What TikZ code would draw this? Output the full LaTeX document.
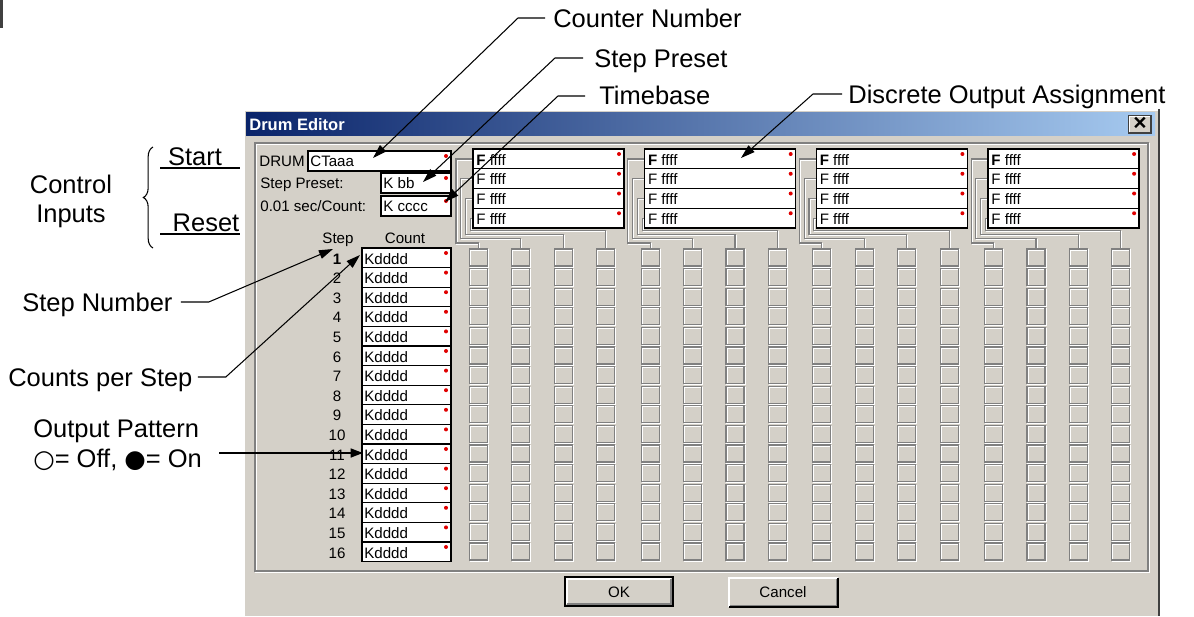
\documentclass[tikz,border=0pt]{standalone}
\usepackage{fontspec}
\setmainfont{Liberation Sans}
\newfontfamily\shapefont{DejaVu Sans}
\usetikzlibrary{arrows.meta,positioning,decorations.pathreplacing}
\definecolor{winbg}{HTML}{D4D0C8}
\definecolor{winshade}{HTML}{808080}
\definecolor{windark}{HTML}{404040}
\definecolor{winnavy}{HTML}{0A246A}
\definecolor{winsky}{HTML}{A6CAF0}
\definecolor{tickred}{HTML}{E00000}

\begin{document}
\begin{tikzpicture}[x=0.02cm,y=-0.02cm,
	note/.style={font=\fontsize{14.5}{17}\selectfont,inner sep=0pt,anchor=base west},
	dlg/.style={font=\fontsize{8.6}{10}\selectfont,inner sep=0pt,anchor=base west},
	point/.style={line width=0.6pt,-{Triangle[length=8pt,width=5pt]}},
	field/.style={draw=black,fill=white,line width=0.7pt},
	tick/.style={fill=tickred},
	etch/.style={draw=winshade,line width=0.6pt},
	etchhi/.style={draw=white,line width=0.6pt}]
	\useasboundingbox (0,0) rectangle (1194,616);
	\draw[windark,line width=1.7pt] (1.5,0) -- (1.5,28);
	% window
	\fill[winbg] (243,109) rectangle (1160,616);
	\draw[white,line width=0.6pt] (244,616) -- (244,110) -- (1158,110);
	\draw[windark,line width=1.1pt] (1159,109) -- (1159,616);
	\shade[left color=winnavy,right color=winsky] (246,112) rectangle (1155,135);
	\node[dlg,font=\fontsize{9.4}{10}\selectfont\bfseries,text=white] (title) at (249,130) {Drum Editor};
	\draw[fill=winbg,draw=windark,line width=0.6pt] (1129,116) rectangle (1151,133);
	\draw[white,line width=0.6pt] (1129.7,132) -- (1129.7,116.7) -- (1150,116.7);
	\node[inner sep=0pt,font=\fontsize{13}{13}\selectfont\bfseries] (close) at (1140,124) {×};
	\draw[etchhi] (256,144) rectangle (1149,572);
	\draw[etch] (255,143) rectangle (1148,571);
	% control fields
	\node[dlg] (drum) at (259,166) {DRUM};
	\node[dlg] (preset) at (260,188) {Step Preset:};
	\node[dlg] (base) at (260,211) {0.01 sec/Count:};
	\draw[field] (308,151) rectangle (451,171);
	\draw[field] (381,173) rectangle (451,193);
	\draw[field] (381,196) rectangle (451,216);
	\node[dlg] (cta) at (310,166) {CTaaa};
	\node[dlg] (kbb) at (383,188) {K bb};
	\node[dlg] (kcc) at (383,211) {K cccc};
	\foreach \t in {156,178,201}
		\fill[tick] (446,\t) circle (2);
	% outputs
	\foreach \g in {0,...,3}{
		\pgfmathsetmacro\L{473+171.7*\g}
		\foreach \k in {0,...,3}{
			\pgfmathsetmacro\T{149+19.75*\k}
			\pgfmathsetmacro\vx{\L-17+4.8*\k}
			\pgfmathsetmacro\hy{243-4.3*\k}
			\pgfmathsetmacro\cx{478.5+171.7*\g+42.4*\k}
			\draw[etchhi] (\L+1,\T+11) -| (\vx+1,\hy+1) -| (\cx+1,249);
			\draw[etch] (\L,\T+10) -| (\vx,\hy) -| (\cx,249);
			\draw[field] (\L,\T) rectangle (\L+151,\T+19.75);
			\node[dlg] (out\g\k) at (\L+3,\T+16) {\ifnum\k=0 \textbf{F}\else F\fi{} ffff};
			\fill[tick] (\L+146,\T+5) circle (2);
		}
	}
	\foreach \c in {0,...,15}{
		\pgfmathsetmacro\cx{478.5+171.7*int(\c/4)+42.4*mod(\c,4)}
		\foreach \i in {0,...,15}{
			\pgfmathsetmacro\T{249+19.6*\i}
			\draw[etchhi] (\cx-8,\T+1) rectangle (\cx+10,\T+18);
			\draw[etch] (\cx-9,\T) rectangle (\cx+9,\T+17);
		}
	}
	% steps
	\node[dlg,anchor=base] (stephd) at (338,243) {Step};
	\node[dlg,anchor=base] (counthd) at (405,243) {Count};
	\foreach \i in {1,...,16}{
		\pgfmathsetmacro\T{248+19.6*(\i-1)}
		\draw[field] (362,\T) rectangle (451,\T+19.6);
		\node[dlg] (cnt\i) at (364,\T+16) {Kdddd};
		\node[dlg,anchor=base] (stp\i) at (337,\T+16) {\ifnum\i=1 \textbf{1}\else\i\fi};
		\fill[tick] (446,\T+5) circle (2);
	}
	% buttons
	\draw[fill=winbg,draw=black,line width=0.9pt] (565,577) rectangle (673,606);
	\draw[white,line width=0.6pt] (567,604) -- (567,579) -- (671,579);
	\draw[winshade,line width=0.6pt] (567,604) -- (671,604) -- (671,579);
	\node[dlg,anchor=base] (ok) at (619,597) {OK};
	\draw[fill=winbg,draw=none] (729,578) rectangle (838,607);
	\draw[white,line width=0.6pt] (729,607) -- (729,578) -- (838,578);
	\draw[black,line width=0.7pt] (729,607) -- (838,607) -- (838,578);
	\draw[winshade,line width=0.6pt] (730,605.5) -- (836.5,605.5) -- (836.5,579);
	\node[dlg,anchor=base] (cancel) at (783,597) {Cancel};
	% notes
	\node[note] (cn) at (553,27) {Counter Number};
	\node[note] (sp) at (594,67) {Step Preset};
	\node[note] (tb) at (599,104) {Timebase};
	\node[note] (doa) at (848,103) {Discrete Output Assignment};
	\node[note,anchor=base] (ctrl) at (71,193) {Control};
	\node[note,below=17pt of ctrl.base,anchor=base] (inp) {Inputs};
	\node[note,anchor=base] (start) at (195,165) {Start};
	\node[note,anchor=base] (reset) at (206,231) {Reset};
	\node[note] (sn) at (22,311) {Step Number};
	\node[note] (cps) at (8,386) {Counts per Step};
	\node[note] (op) at (33,437) {Output Pattern};
	\node[note] (oo) at (33,467) {{\shapefont\fontsize{14}{17}\selectfont ○}= Off, {\shapefont\fontsize{14}{17}\selectfont ●}= On};
	\draw[line width=0.6pt] (160,168) -- (240,168);
	\draw[line width=0.6pt] (160,234) -- (240,234);
	\draw[line width=0.6pt,decorate,decoration={brace,amplitude=5.5pt}] (153,248) -- (153,147);
	\coordinate (tipcn) at (373,158);
	\coordinate (tipsp) at (423,182);
	\coordinate (tiptb) at (445,202);
	\coordinate (tipdoa) at (741,158);
	\coordinate (tipsn) at (333,249);
	\coordinate (tipcps) at (360,255);
	\coordinate (tipop) at (363,453);
	\draw[point] (cn.base west) ++(-8,-9) -- ++(-27,0) -- (tipcn);
	\draw[point] (sp.base west) ++(-11,-9) -- ++(-28,0) -- (tipsp);
	\draw[point] (tb.base west) ++(-14,-8) -- ++(-27,0) -- (tiptb);
	\draw[point] (doa.base west) ++(-6,-9) -- ++(-29,0) -- (tipdoa);
	\draw[point] (sn.base east) ++(8,-9) -- ++(28,0) -- (tipsn);
	\draw[point] (cps.base east) ++(5,-9) -- ++(28,0) -- (tipcps);
	\draw[line width=1.2pt,-{Triangle[length=7pt,width=5pt]}] (oo.base east) ++(17,-14) -- (tipop);
\end{tikzpicture}
\end{document}
